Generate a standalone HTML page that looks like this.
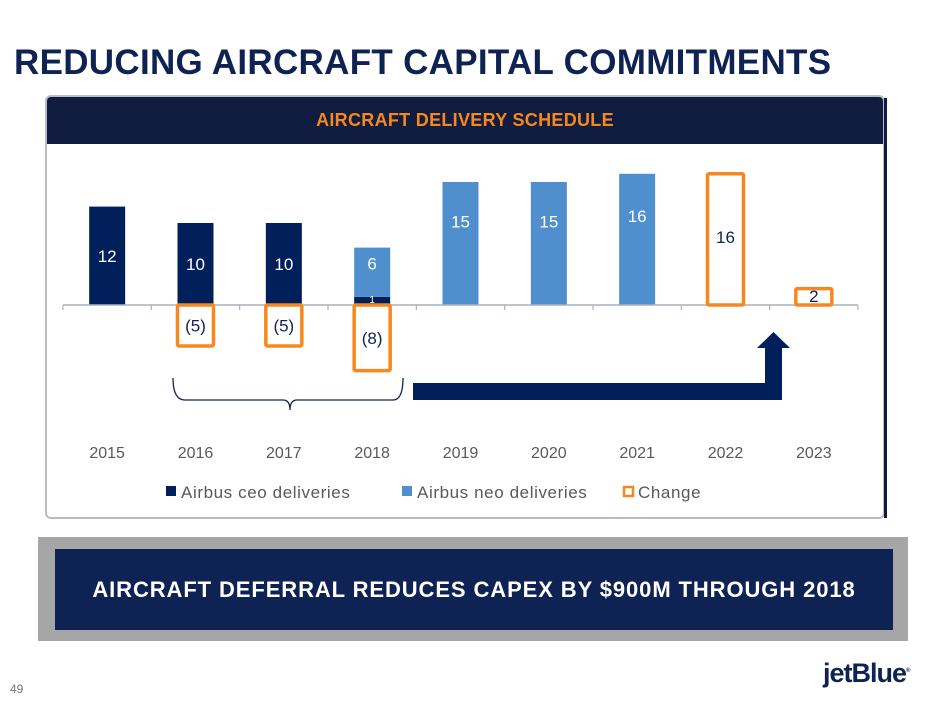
<!DOCTYPE html>
<html><head><meta charset="utf-8"><style>
body{margin:0;width:940px;height:705px;background:#fff;position:relative;overflow:hidden;font-family:"Liberation Sans",sans-serif}
</style></head><body>
<div style="position:absolute;left:14px;top:43px;font-size:35px;font-weight:bold;color:#0e2254;letter-spacing:0.3px">REDUCING AIRCRAFT CAPITAL COMMITMENTS</div>
<div style="position:absolute;left:45px;top:95px;width:840px;height:424px;border:2px solid #b8bcc6;border-radius:6px;box-sizing:border-box;overflow:hidden">
 <div style="height:47px;background:#101d40;color:#f7881f;font-weight:bold;font-size:18px;text-align:center;line-height:46px;letter-spacing:0.3px">AIRCRAFT DELIVERY SCHEDULE</div>
</div>
<div style="position:absolute;left:884px;top:98px;width:3px;height:420px;background:#101d40"></div>
<svg id="chart" width="940" height="705" style="position:absolute;left:0;top:0">
</svg>
<div style="position:absolute;left:38px;top:537px;width:870px;height:104px;background:#a6a6a6"></div>
<div style="position:absolute;left:55px;top:549px;width:838px;height:81px;background:#0e2254;color:#fff;font-weight:bold;font-size:22px;text-align:center;line-height:81px;letter-spacing:0.9px">AIRCRAFT DEFERRAL REDUCES CAPEX BY $900M THROUGH 2018</div>
<div style="position:absolute;left:10px;top:682px;font-size:12px;color:#777">49</div>
<div style="position:absolute;left:823px;top:658px;font-size:27px;font-weight:bold;color:#0e2254;letter-spacing:-1px">jetBlue<sup style="font-size:6px">®</sup></div>
<script>
const years=["2015","2016","2017","2018","2019","2020","2021","2022","2023"];
const ceo=[12,10,10,1,0,0,0,0,0];
const neo=[0,0,0,6,15,15,16,0,0];
const change=[0,-5,-5,-8,0,0,0,16,2];
const ns="http://www.w3.org/2000/svg";
const svg=document.getElementById('chart');
const x0=63,x1=858,y0=305,k=8.2,bw=36;
const cw=(x1-x0)/years.length;
const cx=i=>x0+cw*(i+0.5);
const y=v=>y0-v*k;
function mk(t,a){const e=document.createElementNS(ns,t);for(const p in a)e.setAttribute(p,a[p]);svg.appendChild(e);return e;}
function txt(s,xx,yy,fill,size){const e=mk('text',{x:xx,y:yy,fill:fill,'font-size':size,'text-anchor':'middle','font-family':'Liberation Sans, sans-serif'});e.textContent=s;return e;}
years.forEach((yr,i)=>{
 if(ceo[i]>0){const r=mk('rect',{x:cx(i)-bw/2,y:y(ceo[i]),width:bw,height:ceo[i]*k,fill:'#001f5b'});
 
 }
 if(neo[i]>0){const r=mk('rect',{x:cx(i)-bw/2,y:y(ceo[i]+neo[i]),width:bw,height:neo[i]*k,fill:'#4f8fce'});
 
 }
});
mk('line',{x1:x0,y1:y0,x2:x1,y2:y0,stroke:'#aab0bf','stroke-width':1.5});
for(let i=0;i<=years.length;i++)mk('line',{x1:x0+cw*i,y1:y0,x2:x0+cw*i,y2:y0+5,stroke:'#aab0bf','stroke-width':1.2});
years.forEach((yr,i)=>{
 if(ceo[i]>0&&neo[i]==0){const t=txt(String(ceo[i]),cx(i),y(ceo[i]/2)+6,'#fff',17);}
 if(neo[i]>0){const base=ceo[i];const t=txt(String(neo[i]),cx(i),y(base+neo[i]*0.68)+6,'#fff',17);
  if(base>0){const t2=txt(String(base),cx(i),y(base/2)+2,'#fff',10);}}
 if(change[i]!==0){const v=change[i];const top=v>0?y(v):y0;const h=Math.abs(v)*k;
  const r=mk('rect',{x:cx(i)-18,y:top,width:36,height:h,fill:'none',stroke:'#f7881f','stroke-width':3.5,rx:1.5});
  
  
  const lab=v<0?'('+(-v)+')':String(v);
  const ly=v<0?top+h/2+6:(v>3?y(v*0.52)+6:y0-3);
  const t=txt(lab,cx(i),ly,'#0e2254',17);}
 const xl=txt(yr,cx(i),458,'#595959',16);
 
 
});
const br=mk('path',{d:'M173,378 Q173,400 185,400 L283,400 Q290,400 290,410 Q290,400 297,400 L393,400 Q403,400 403,378',fill:'none',stroke:'#0e2254','stroke-width':1.3});


const ar=mk('path',{d:'M413,383 L765,383 L765,348 L757,348 L773.5,332 L790,348 L782,348 L782,400 L413,400 Z',fill:'#001f5b'});


const leg=[['Airbus ceo deliveries','#001f5b',false,166],['Airbus neo deliveries','#4f8fce',false,402],['Change','#f7881f',true,623]];
leg.forEach(l=>{
 const r=mk('rect',l[2]?{x:l[3]+1,y:487,width:9,height:9,fill:'none',stroke:l[1],'stroke-width':2.5}:{x:l[3],y:486,width:10,height:10,fill:l[1]});
 
 
 const t=mk('text',{x:l[3]+15,y:498,fill:'#595959','font-size':17,'letter-spacing':0.6,'font-family':'Liberation Sans, sans-serif'});t.textContent=l[0];
 
 
});
</script>
</body></html>
